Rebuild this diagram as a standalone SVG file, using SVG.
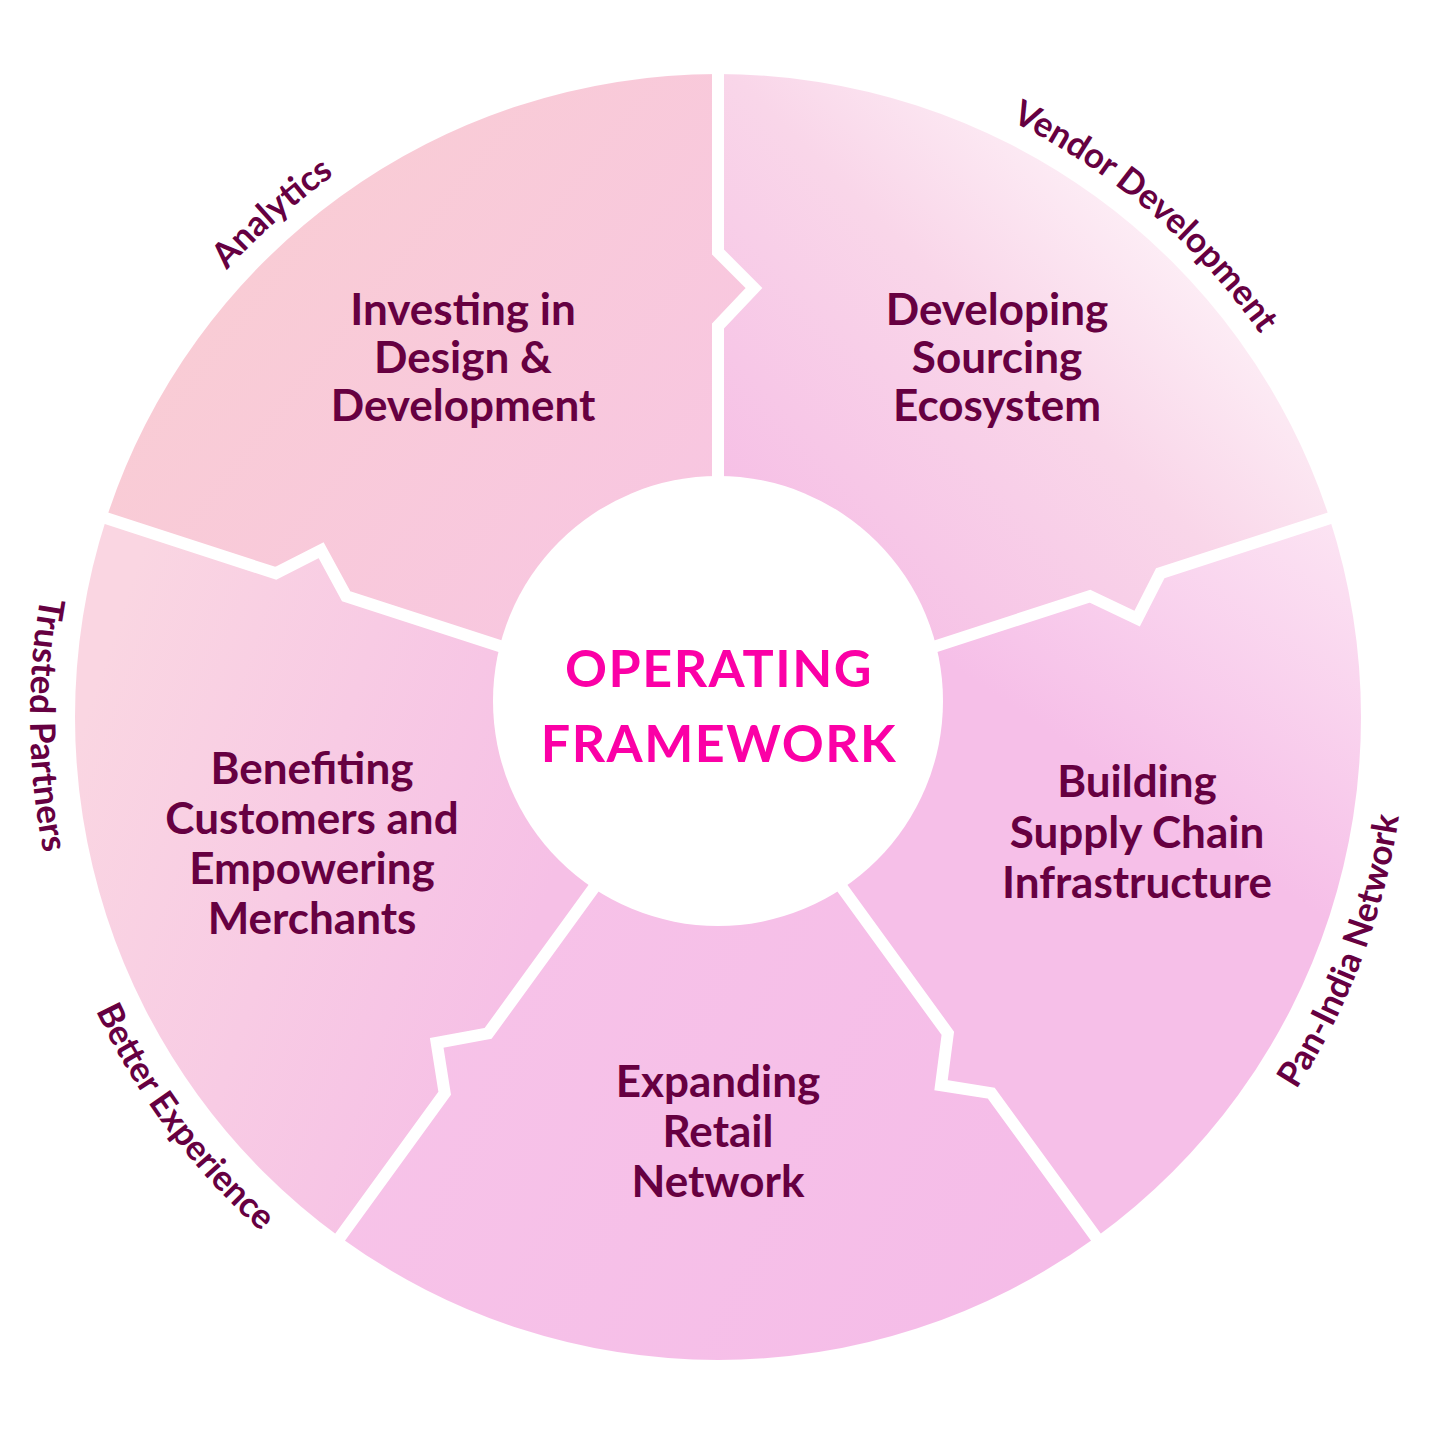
<svg xmlns="http://www.w3.org/2000/svg" xmlns:xlink="http://www.w3.org/1999/xlink" width="1437" height="1437" viewBox="0 0 1437 1437">
<style>
.seg-text{font-family:Lato,"Liberation Sans",sans-serif;font-weight:700;font-size:44px;fill:#660041;text-anchor:middle}
.arc-label{font-family:Lato,"Liberation Sans",sans-serif;font-weight:700;font-size:35px;fill:#660041;text-anchor:middle}
.center-text{font-family:Lato,"Liberation Sans",sans-serif;font-weight:700;font-size:52px;letter-spacing:1.5px;fill:#fb00a6;text-anchor:middle}
.gap{fill:none;stroke:#ffffff;stroke-width:12;stroke-linejoin:miter;stroke-miterlimit:10}
</style>
<defs>
<linearGradient id="gE" gradientUnits="userSpaceOnUse" x1="150" y1="250" x2="650" y2="650">
<stop offset="0" stop-color="#f9cdd3"/><stop offset="1" stop-color="#f8c6e2"/>
</linearGradient>
<linearGradient id="gA" gradientUnits="userSpaceOnUse" x1="880" y1="640" x2="1260" y2="260">
<stop offset="0" stop-color="#f6c0e6"/><stop offset="0.55" stop-color="#f9d6e9"/><stop offset="1" stop-color="#fef4f9"/>
</linearGradient>
<linearGradient id="gB" gradientUnits="userSpaceOnUse" x1="1340" y1="520" x2="1150" y2="800">
<stop offset="0" stop-color="#fce4f3"/><stop offset="1" stop-color="#f6bfe8"/>
</linearGradient>
<linearGradient id="gC" gradientUnits="userSpaceOnUse" x1="400" y1="1000" x2="1050" y2="1300">
<stop offset="0" stop-color="#f7c3e8"/><stop offset="1" stop-color="#f5bce8"/>
</linearGradient>
<linearGradient id="gD" gradientUnits="userSpaceOnUse" x1="90" y1="700" x2="560" y2="860">
<stop offset="0" stop-color="#fad6e2"/><stop offset="1" stop-color="#f6c0e6"/>
</linearGradient>
<path id="gapPath" d="M718 717 L718 326 L754 288 L718 252 L718 50"/>
<path id="cwCircle" d="M54 717 A664 664 0 1 1 1382 717 A664 664 0 1 1 54 717"/>
<path id="ccwCircle" d="M718 29 A688 688 0 1 0 718 1405 A688 688 0 1 0 718 29"/>
</defs>
<rect width="1437" height="1437" fill="#ffffff"/>

<g id="node-investing">
<path d="M718 717 L346.14 596.17 L321.12 550.19 L275.76 573.31 L106.47 518.3 A643 643 0 0 1 718 74 L718 252 L754 288 L718 326 Z" fill="url(#gE)"/>
<text class="seg-text"><tspan x="463" y="325">Investing in</tspan><tspan x="463" y="373">Design &amp;</tspan><tspan x="463" y="421">Development</tspan></text>
</g>
<g id="node-sourcing">
<path d="M718 717 L718 326 L754 288 L718 252 L718 74 A643 643 0 0 1 1329.53 518.3 L1160.24 573.31 L1137.12 618.67 L1089.86 596.17 Z" fill="url(#gA)"/>
<text class="seg-text"><tspan x="997" y="325">Developing</tspan><tspan x="997" y="373">Sourcing</tspan><tspan x="997" y="421">Ecosystem</tspan></text>
</g>
<g id="node-supply">
<path d="M718 717 L1089.86 596.17 L1137.12 618.67 L1160.24 573.31 L1329.53 518.3 A643 643 0 0 1 1095.95 1237.2 L991.32 1093.19 L941.04 1085.23 L947.82 1033.33 Z" fill="url(#gB)"/>
<text class="seg-text"><tspan x="1137" y="797">Building</tspan><tspan x="1137" y="848">Supply Chain</tspan><tspan x="1137" y="898">Infrastructure</tspan></text>
</g>
<g id="node-retail">
<path d="M718 717 L947.82 1033.33 L941.04 1085.23 L991.32 1093.19 L1095.95 1237.2 A643 643 0 0 1 340.05 1237.2 L444.68 1093.19 L436.72 1042.91 L488.18 1033.33 Z" fill="url(#gC)"/>
<text class="seg-text"><tspan x="718" y="1097">Expanding</tspan><tspan x="718" y="1147">Retail</tspan><tspan x="718" y="1197">Network</tspan></text>
</g>
<g id="node-customers">
<path d="M718 717 L488.18 1033.33 L436.72 1042.91 L444.68 1093.19 L340.05 1237.2 A643 643 0 0 1 106.47 518.3 L275.76 573.31 L321.12 550.19 L346.14 596.17 Z" fill="url(#gD)"/>
<text class="seg-text"><tspan x="312" y="784">Benefiting</tspan><tspan x="312" y="834">Customers and</tspan><tspan x="312" y="884">Empowering</tspan><tspan x="312" y="934">Merchants</tspan></text>
</g>

<g id="separators">
<use xlink:href="#gapPath" href="#gapPath" class="gap"/>
<use xlink:href="#gapPath" href="#gapPath" class="gap" transform="rotate(72 718 717)"/>
<use xlink:href="#gapPath" href="#gapPath" class="gap" transform="rotate(144 718 717)"/>
<use xlink:href="#gapPath" href="#gapPath" class="gap" transform="rotate(216 718 717)"/>
<use xlink:href="#gapPath" href="#gapPath" class="gap" transform="rotate(288 718 717)"/>
</g>

<g id="node-center">
<circle cx="718" cy="701" r="225" fill="#ffffff"/>
<text class="center-text" x="719" y="687">OPERATING</text>
<text class="center-text" x="719" y="762">FRAMEWORK</text>
</g>

<g id="arc-labels">
<text class="arc-label"><textPath xlink:href="#cwCircle" href="#cwCircle" startOffset="562">Analytics</textPath></text>
<text class="arc-label"><textPath xlink:href="#cwCircle" href="#cwCircle" startOffset="1512">Vendor Development</textPath></text>
<text class="arc-label"><textPath xlink:href="#ccwCircle" href="#ccwCircle" startOffset="1089">Trusted Partners</textPath></text>
<text class="arc-label"><textPath xlink:href="#ccwCircle" href="#ccwCircle" startOffset="1523">Better Experience</textPath></text>
<text class="arc-label"><textPath xlink:href="#ccwCircle" href="#ccwCircle" startOffset="2995">Pan-India Network</textPath></text>
</g>
</svg>
